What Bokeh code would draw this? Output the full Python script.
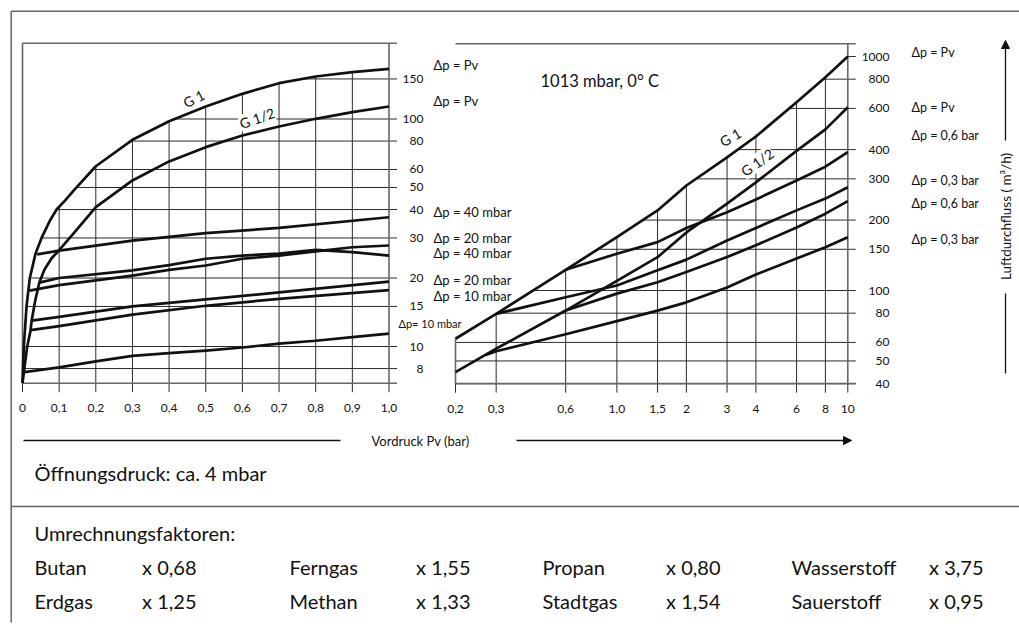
import numpy as np
from bokeh.plotting import figure
from bokeh.models import Range1d, LogScale, LinearScale, Label, Arrow, NormalHead
from bokeh.core.properties import value
from bokeh.embed import file_html
from bokeh.resources import INLINE

FONT = "Lato"
INK = "#111111"

# ---------------- data: left panel (Pv 0..1 bar, linear) ----------------
left_x_ticks = [0.0, 0.1, 0.2, 0.3, 0.4, 0.5, 0.6, 0.7, 0.8, 0.9, 1.0]
left_x_labels = ["0", "0,1", "0,2", "0,3", "0,4", "0,5", "0,6", "0,7", "0,8", "0,9", "1,0"]
left_y_ticks = [8, 10, 15, 20, 30, 40, 50, 60, 80, 100, 150]

g1_pv_x = [0, 0.0036, 0.011, 0.02, 0.0355, 0.052, 0.075, 0.093, 0.116, 0.14, 0.2, 0.3, 0.4, 0.5, 0.6, 0.7, 0.8, 0.9, 1.0]
g1_pv_y = [6.9, 10, 15, 20, 25.6, 30, 35.8, 40, 43.8, 48.6, 62, 81, 97.8, 113.5, 129, 143.7, 153.8, 160.6, 166.2]
g12_pv_x = [0, 0.005, 0.012, 0.022, 0.025, 0.035, 0.046, 0.06, 0.08, 0.1, 0.14, 0.2, 0.3, 0.4, 0.5, 0.6, 0.7, 0.8, 0.9, 1.0]
g12_pv_y = [6.9, 8.0, 9.8, 11.8, 13.0, 16.0, 19.1, 21.8, 24.5, 26.5, 31.5, 41, 53.7, 65.1, 75.2, 84.6, 92.7, 100.2, 107.2, 113.5]
g1_40_x = [0.04, 0.1, 0.3, 0.5, 0.7, 1.0]
g1_40_y = [25.4, 26.4, 29.2, 31.5, 33.2, 37.0]
g1_20_x = [0.019, 0.1, 0.3, 0.4, 0.5, 0.6, 0.7, 0.8, 0.9, 1.0]
g1_20_y = [17.6, 18.6, 20.5, 21.7, 22.7, 24.3, 25.1, 26.2, 27.3, 27.8]
g12_40_x = [0.046, 0.1, 0.3, 0.4, 0.5, 0.6, 0.7, 0.8, 0.9, 1.0]
g12_40_y = [19.1, 20.0, 21.6, 22.8, 24.3, 25.1, 25.6, 26.6, 26.0, 25.1]
g1_10_x = [0.025, 0.1, 0.3, 0.5, 0.7, 1.0]
g1_10_y = [13.0, 13.5, 15.0, 16.1, 17.3, 19.3]
g12_20_x = [0.022, 0.1, 0.3, 0.5, 0.7, 1.0]
g12_20_y = [11.8, 12.3, 13.8, 15.1, 16.2, 17.7]
g12_10_x = [0, 0.1, 0.2, 0.3, 0.4, 0.5, 0.6, 0.7, 0.8, 0.9, 1.0]
g12_10_y = [7.7, 8.1, 8.6, 9.1, 9.35, 9.6, 9.9, 10.3, 10.6, 11.0, 11.4]

# ---------------- data: right panel (Pv 0.2..10 bar, log) ----------------
right_x_ticks = [0.2, 0.3, 0.6, 1.0, 1.5, 2, 3, 4, 6, 8, 10]
right_x_labels = ["0,2", "0,3", "0,6", "1,0", "1,5", "2", "3", "4", "6", "8", "10"]
right_y_ticks = [40, 50, 60, 80, 100, 150, 200, 300, 400, 600, 800, 1000]

r_g1_pv_x = [0.2, 0.3, 0.6, 1.0, 1.5, 2, 3, 4, 6, 8, 10]
r_g1_pv_y = [62.2, 79.5, 122.6, 169, 219.8, 281, 371, 455, 638, 815, 1000]
r_g12_pv_x = [0.2, 0.3, 0.6, 1.0, 1.5, 2, 3, 4, 6, 8, 10]
r_g12_pv_y = [44.8, 56.4, 82.1, 110, 138.8, 177, 235, 290, 395, 488, 607]
r_g1_06_x = [0.6, 1.0, 1.5, 2, 3, 4, 6, 8, 10]
r_g1_06_y = [122.6, 143.6, 161, 185, 216, 245, 295, 338, 390]
r_g1_03_x = [0.3, 0.6, 1.0, 1.5, 2, 3, 4, 6, 8, 10]
r_g1_03_y = [79.5, 93.6, 105, 122, 135.5, 163.6, 185, 220, 247, 276]
r_g12_06_x = [0.6, 1.0, 1.5, 2, 3, 4, 6, 8, 10]
r_g12_06_y = [82.1, 97, 108.5, 120, 139, 156, 186, 213, 241]
r_g12_03_x = [0.27, 0.3, 0.6, 1.0, 1.5, 2, 3, 4, 6, 8, 10]
r_g12_03_y = [53, 55, 65, 74, 82, 89, 103, 117, 137, 153, 169]

# ---------------- conversion factors table ----------------
gases_row1 = ["Butan", "Ferngas", "Propan", "Wasserstoff"]
factors_row1 = [0.68, 1.55, 0.80, 3.75]
gases_row2 = ["Erdgas", "Methan", "Stadtgas", "Sauerstoff"]
factors_row2 = [1.25, 1.33, 1.54, 0.95]

# ---------------- layout (page pixels; the page has no body margin) ----------------
W, H = 1019, 629
PX0, PY0 = 0, 0
PX1, PY1 = PX0 + W, PY0 + H

L_X0_PX, L_X1_PX = 22.0, 388.5         # x = 0 and x = 1.0
L_Y10_PX, L_PPD = 346.0, 227.5         # y = 10 and px per decade
L_TOP_PX, L_BOT_PX = 42.7, 382.7
R_X02_PX, R_PPDX = 455.0, 230.9        # x = 0.2, px per decade
R_Y1000_PX, R_PPDY = 56.0, 234.0       # y = 1000, px per decade
R_TOP_PX = 43.3
TICK = 9.0
EXT = 8.0

lx_start = (PX0 - L_X0_PX) / (L_X1_PX - L_X0_PX)
lx_end = (PX1 - L_X0_PX) / (L_X1_PX - L_X0_PX)
ly_start = 10 ** (1 - (PY1 - L_Y10_PX) / L_PPD)
ly_end = 10 ** (1 + (L_Y10_PX - PY0) / L_PPD)
rx_start = 10 ** (np.log10(0.2) - (R_X02_PX - PX0) / R_PPDX)
rx_end = 10 ** (np.log10(0.2) + (PX1 - R_X02_PX) / R_PPDX)
ry_start = 10 ** (3 - (PY1 - R_Y1000_PX) / R_PPDY)
ry_end = 10 ** (3 + (R_Y1000_PX - PY0) / R_PPDY)

L_YMIN = 10 ** (1 - (L_BOT_PX - L_Y10_PX) / L_PPD)
L_YMAX = 10 ** (1 + (L_Y10_PX - L_TOP_PX) / L_PPD)
L_XEXT = 1.0 + EXT / (L_X1_PX - L_X0_PX)
L_YTICK = L_YMIN / 10 ** (TICK / L_PPD)
R_XMIN, R_XMAX = 0.2, 10.0
R_YMIN = 40.0
R_YMAX = 10 ** (3 + (R_Y1000_PX - R_TOP_PX) / R_PPDY)
R_XEXT = R_XMAX * 10 ** (EXT / R_PPDX)
R_YTICK = R_YMIN / 10 ** (TICK / R_PPDY)

p = figure(width=W, height=H, x_range=Range1d(PX0, PX1), y_range=Range1d(PY1, PY0),
           output_backend="svg", toolbar_location=None, min_border=0,
           x_axis_type=None, y_axis_type=None, outline_line_color=None,
           background_fill_color="white", border_fill_color="white")
p.grid.visible = False
p.extra_x_ranges = {"lx": Range1d(lx_start, lx_end), "rx": Range1d(rx_start, rx_end)}
p.extra_x_scales = {"lx": LinearScale(), "rx": LogScale()}
p.extra_y_ranges = {"ly": Range1d(ly_start, ly_end), "ry": Range1d(ry_start, ry_end)}
p.extra_y_scales = {"ly": LogScale(), "ry": LogScale()}

L = dict(x_range_name="lx", y_range_name="ly")
R = dict(x_range_name="rx", y_range_name="ry")
GRID = dict(line_color="#2a2a2a", line_width=1)
FRAME = dict(line_color="#666666", line_width=1.6)
CURVE = dict(line_color=INK, line_width=2.7, line_join="round")


def tf(size):
    return dict(text_font=value(FONT), text_font_size=size, text_color=INK)


# ---------------- left panel ----------------
g1x = np.array(g1_pv_x)
g1ly = np.log10(g1_pv_y)
hx0 = [float(np.interp(np.log10(v), g1ly, g1x)) for v in left_y_ticks]
p.segment(x0=hx0, y0=left_y_ticks, x1=[L_XEXT] * len(left_y_ticks), y1=left_y_ticks, **GRID, **L)
inner = left_x_ticks[1:-1]
vtop = [float(10 ** np.interp(t, g1x, g1ly)) for t in inner]
p.segment(x0=inner, y0=[L_YMIN] * len(inner), x1=inner, y1=vtop, **GRID, **L)
p.segment(x0=left_x_ticks, y0=[L_YMIN] * len(left_x_ticks), x1=left_x_ticks,
          y1=[L_YTICK] * len(left_x_ticks), **GRID, **L)
p.segment(x0=[0, 0, 0, 1.0], y0=[L_YMAX, L_YMIN, L_YMIN, L_YMIN],
          x1=[L_XEXT, L_XEXT, 0, 1.0], y1=[L_YMAX, L_YMIN, L_YMAX, L_YMAX], **FRAME, **L)

left_curves = [(g1_pv_x, g1_pv_y), (g12_pv_x, g12_pv_y), (g1_40_x, g1_40_y), (g1_20_x, g1_20_y),
               (g12_40_x, g12_40_y), (g1_10_x, g1_10_y), (g12_20_x, g12_20_y), (g12_10_x, g12_10_y)]
for cx, cy in left_curves:
    p.line(cx, cy, **CURVE, **L)

p.text(x=left_x_ticks, y=[L_YMIN] * len(left_x_ticks), text=left_x_labels, y_offset=25,
       text_align="center", text_baseline="middle", **tf("12px"), **L)
p.text(x=[1.0] * len(left_y_ticks), y=left_y_ticks, text=[str(v) for v in left_y_ticks],
       x_offset=34.5, text_align="right", text_baseline="middle", **tf("12px"), **L)

left_lab_text = ["Δp = Pv", "Δp = Pv", "Δp = 40 mbar", "Δp = 20 mbar", "Δp = 40 mbar",
                 "Δp = 20 mbar", "Δp = 10 mbar"]
left_lab_y = [g1_pv_y[-1], g12_pv_y[-1], g1_40_y[-1], g1_20_y[-1], g12_40_y[-1], g1_10_y[-1], g12_20_y[-1]]
left_lab_dy = [-4, -5, -5, -7, -3, -2, 6]
p.text(x=[1.0] * len(left_lab_y), y=left_lab_y, text=left_lab_text, x_offset=44.5, y_offset=left_lab_dy,
       text_align="left", text_baseline="middle", **tf("13px"), **L)
p.text(x=[1.0], y=[g12_10_y[-1]], text=["Δp= 10 mbar"], x_offset=9.5, y_offset=-10,
       text_align="left", text_baseline="middle", **tf("11px"), **L)

# ---------------- right panel ----------------
rg1x = np.log10(r_g1_pv_x)
rg1y = np.log10(r_g1_pv_y)
rhx0 = [max(R_XMIN, float(10 ** np.interp(np.log10(v), rg1y, rg1x))) for v in right_y_ticks]
p.segment(x0=rhx0, y0=right_y_ticks, x1=[R_XEXT] * len(right_y_ticks), y1=right_y_ticks, **GRID, **R)
rinner = right_x_ticks[1:-1]
rvtop = [float(10 ** np.interp(np.log10(t), rg1x, rg1y)) for t in rinner]
p.segment(x0=rinner, y0=[R_YMIN] * len(rinner), x1=rinner, y1=rvtop, **GRID, **R)
p.segment(x0=right_x_ticks, y0=[R_YMIN] * len(right_x_ticks), x1=right_x_ticks,
          y1=[R_YTICK] * len(right_x_ticks), **GRID, **R)
p.segment(x0=[R_XMIN, R_XMIN, R_XMIN, R_XMAX], y0=[R_YMAX, R_YMIN, R_YMIN, R_YMIN],
          x1=[R_XEXT, R_XEXT, R_XMIN, R_XMAX], y1=[R_YMAX, R_YMIN, r_g1_pv_y[0], R_YMAX], **FRAME, **R)

right_curves = [(r_g1_pv_x, r_g1_pv_y), (r_g12_pv_x, r_g12_pv_y), (r_g1_06_x, r_g1_06_y),
                (r_g1_03_x, r_g1_03_y), (r_g12_06_x, r_g12_06_y), (r_g12_03_x, r_g12_03_y)]
for cx, cy in right_curves:
    p.line(cx, cy, **CURVE, **R)

p.text(x=right_x_ticks, y=[R_YMIN] * len(right_x_ticks), text=right_x_labels, y_offset=25,
       text_align="center", text_baseline="middle", **tf("12px"), **R)
p.text(x=[R_XMAX] * len(right_y_ticks), y=right_y_ticks, text=[str(v) for v in right_y_ticks],
       x_offset=41.7, text_align="right", text_baseline="middle", **tf("12px"), **R)
right_lab_text = ["Δp = Pv", "Δp = Pv", "Δp = 0,6 bar", "Δp = 0,3 bar", "Δp = 0,6 bar", "Δp = 0,3 bar"]
right_lab_y = [r_g1_pv_y[-1], r_g12_pv_y[-1], r_g1_06_y[-1], r_g1_03_y[-1], r_g12_06_y[-1], r_g12_03_y[-1]]
right_lab_dy = [-4, 0, -17, -7, 2, 2]
p.text(x=[R_XMAX] * len(right_lab_y), y=right_lab_y, text=right_lab_text, x_offset=63.7,
       y_offset=right_lab_dy, text_align="left", text_baseline="middle", **tf("12.5px"), **R)


def curve_label(text, x, y, angle, rng, bg=False):
    kw = dict(x=x, y=y, text=text, angle=angle, angle_units="deg", text_align="center",
              text_baseline="middle", text_font=FONT, text_font_size="14px", text_color=INK,
              x_range_name=rng[0], y_range_name=rng[1])
    if bg:
        kw["background_fill_color"] = "white"
    p.add_layout(Label(**kw))


curve_label("G 1", 0.467, 123, 27, ("lx", "ly"))
curve_label("G 1/2", 0.640, 101, 19, ("lx", "ly"), bg=True)
curve_label("G 1", 3.1, 452, 30, ("rx", "ry"))
curve_label("G 1/2", 4.05, 353, 35, ("rx", "ry"), bg=True)

# ---------------- page texts and frame ----------------
p.text(x=[540], y=[80], text=["1013 mbar,  0° C"], text_align="left", text_baseline="middle", **tf("16.5px"))

p.segment(x0=[10.7, 10.7, 10.7], y0=[10.7, 10.7, 506], x1=[PX1, 10.7, PX1], y1=[10.7, 622, 506],
          line_color="#666666", line_width=1.5)

p.segment(x0=[23], y0=[440], x1=[340], y1=[440], line_color=INK, line_width=1.3)
p.add_layout(Arrow(x_start=516, y_start=440, x_end=851, y_end=440, line_color=INK, line_width=1.3,
                   end=NormalHead(size=8, fill_color=INK, line_color=INK)))
p.text(x=[420], y=[440], text=["Vordruck Pv (bar)"], text_align="center", text_baseline="middle", **tf("13px"))

p.segment(x0=[1005], y0=[373], x1=[1005], y1=[293], line_color=INK, line_width=1.3)
p.add_layout(Arrow(x_start=1005, y_start=140, x_end=1005, y_end=40, line_color=INK, line_width=1.3,
                   end=NormalHead(size=8, fill_color=INK, line_color=INK)))
p.text(x=[1005], y=[216], text=["Luftdurchfluss ( m³/h)"], angle=np.pi / 2, text_align="center",
       text_baseline="middle", **tf("13.5px"))

p.text(x=[34], y=[472], text=["Öffnungsdruck: ca. 4 mbar"], text_align="left", text_baseline="middle", **tf("20px"))
p.text(x=[34], y=[532], text=["Umrechnungsfaktoren:"], text_align="left", text_baseline="middle", **tf("20px"))

name_x = [34, 289, 542, 791]
fac_x = [141.6, 415.6, 665.6, 928.6]
for row_y, gases, facs in [(566, gases_row1, factors_row1), (600, gases_row2, factors_row2)]:
    p.text(x=name_x, y=[row_y] * 4, text=gases, text_align="left", text_baseline="middle", **tf("20px"))
    p.text(x=fac_x, y=[row_y] * 4, text=["x " + f"{f:.2f}".replace(".", ",") for f in facs],
           text_align="left", text_baseline="middle", **tf("20px"))

open("out.html", "w").write(file_html(p, INLINE))
